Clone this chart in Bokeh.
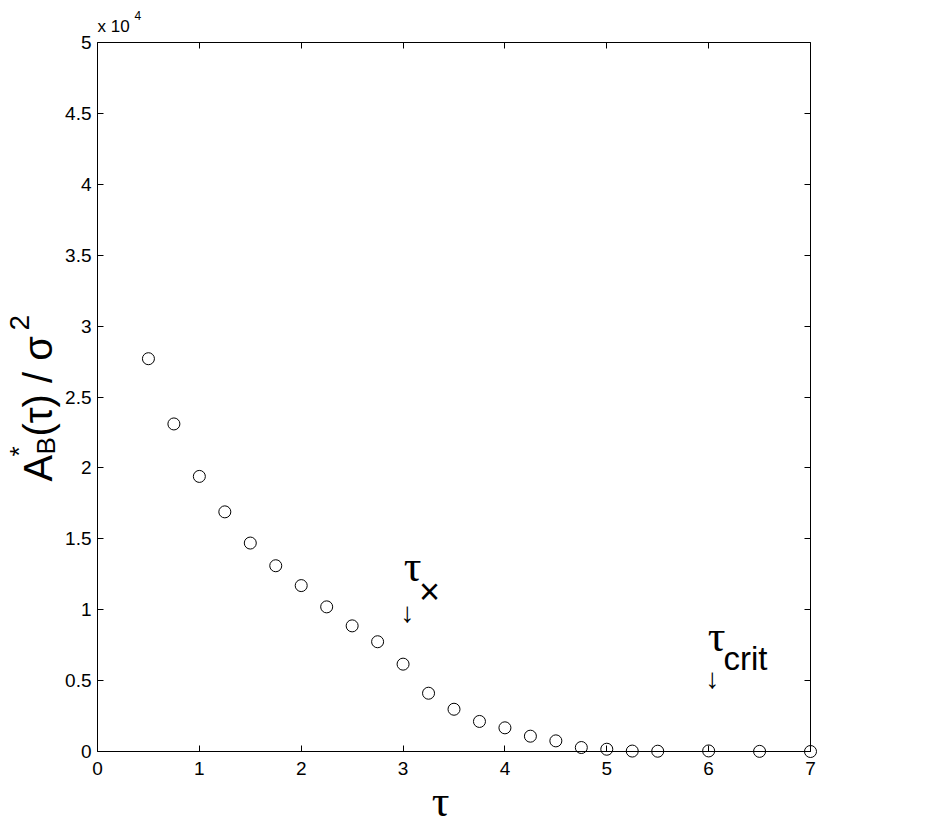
import math
from bokeh.plotting import figure
from bokeh.models import Range1d, LinearAxis, FixedTicker, Label
from bokeh.embed import file_html
from bokeh.resources import INLINE

# ---- data (A*_B(tau)/sigma^2 in units of 1e4) ----
tau = [0.5, 0.75, 1.0, 1.25, 1.5, 1.75, 2.0, 2.25, 2.5, 2.75, 3.0, 3.25,
       3.5, 3.75, 4.0, 4.25, 4.5, 4.75, 5.0, 5.25, 5.5, 6.0, 6.5, 7.0]
a_star = [2.77, 2.31, 1.94, 1.69, 1.47, 1.31, 1.17, 1.02, 0.886, 0.774, 0.616, 0.411,
          0.298, 0.212, 0.167, 0.108, 0.075, 0.028, 0.016, 0.003, 0.002, 0.004, 0.001, 0.0]

x_ticks = [0, 1, 2, 3, 4, 5, 6, 7]
x_tick_labels = ["0", "1", "2", "3", "4", "5", "6", "7"]
y_ticks = [0, 0.5, 1, 1.5, 2, 2.5, 3, 3.5, 4, 4.5, 5]
y_tick_labels = ["0", "0.5", "1", "1.5", "2", "2.5", "3", "3.5", "4", "4.5", "5"]
X_MIN, X_MAX = 0, 7
Y_MIN, Y_MAX = 0, 5

SANS = "Liberation Sans"
SERIF = "Liberation Serif"

# ---- layout (pixels) ----
W, H = 920, 825
BOX_L, BOX_R, BOX_T, BOX_B = 97, 810, 42, 751
sx = (BOX_R - BOX_L) / (X_MAX - X_MIN)
sy = (BOX_B - BOX_T) / (Y_MAX - Y_MIN)
x_range = Range1d(X_MIN - BOX_L / sx, X_MAX + (W - BOX_R) / sx)
y_range = Range1d(Y_MIN - (H - BOX_B) / sy, Y_MAX + BOX_T / sy)

p = figure(width=W, height=H, x_range=x_range, y_range=y_range,
           output_backend="svg", toolbar_location=None,
           x_axis_location=None, y_axis_location=None,
           min_border=0, min_border_left=0, min_border_right=0,
           min_border_top=0, min_border_bottom=0)
p.xgrid.grid_line_color = None
p.ygrid.grid_line_color = None
p.outline_line_color = None
p.background_fill_color = "white"
p.border_fill_color = "white"


def make_axis(ticks, labels, loc, bounds, show_labels, standoff):
    ax = LinearAxis(ticker=FixedTicker(ticks=ticks), fixed_location=loc, bounds=bounds,
                    major_label_overrides={t: l for t, l in zip(ticks, labels)})
    ax.major_tick_in = 6
    ax.major_tick_out = 0
    ax.minor_tick_in = 0
    ax.minor_tick_out = 0
    ax.axis_line_color = "black"
    ax.axis_line_width = 1
    ax.major_tick_line_color = "black"
    ax.major_label_text_font = SANS
    ax.major_label_text_font_size = "19px"
    ax.major_label_standoff = standoff
    ax.major_label_text_color = "black" if show_labels else None
    return ax


p.add_layout(make_axis(x_ticks, x_tick_labels, Y_MIN, (X_MIN, X_MAX), True, 10), "below")
p.add_layout(make_axis(y_ticks, y_tick_labels, X_MIN, (Y_MIN, Y_MAX), True, 6), "left")
p.add_layout(make_axis(x_ticks, x_tick_labels, Y_MAX, (X_MIN, X_MAX), False, 0), "above")
p.add_layout(make_axis(y_ticks, y_tick_labels, X_MAX, (Y_MIN, Y_MAX), False, 0), "right")

p.scatter(tau, a_star, marker="circle", size=12, fill_color=None,
          line_color="black", line_width=1)


def lab(px, py, text, size, font=SANS, angle=0.0, align="left", baseline="alphabetic"):
    p.add_layout(Label(x=px, y=H - py, x_units="screen", y_units="screen", text=text,
                       angle=angle, text_font=font, text_font_size=f"{size}px",
                       text_align=align, text_baseline=baseline, text_color="black"))


# exponent note
lab(97, 26, "x 10", 17)
lab(134, 15, "4", 12)

# y-axis label (rotated)
R = math.pi / 2
lab(37, 481, "A", 40, angle=R)
lab(18, 456, "*", 26, angle=R)
lab(45, 454, "B", 26, angle=R)
lab(37, 436, "(τ) / σ", 40, angle=R)
lab(19, 330, "2", 28, angle=R)

# x-axis label
lab(440, 801, "τ", 44, font=SERIF, align="center")

# annotation tau_x
lab(412, 566, "τ", 44, font=SERIF, align="center")
lab(429, 591, "×", 36, align="center")
lab(407, 612, "↓", 28, align="center")

# annotation tau_crit
lab(716, 636, "τ", 44, font=SERIF, align="center")
lab(723, 658, "crit", 33)
lab(712, 678, "↓", 28, align="center")

open("out.html", "w").write(file_html(p, INLINE))
